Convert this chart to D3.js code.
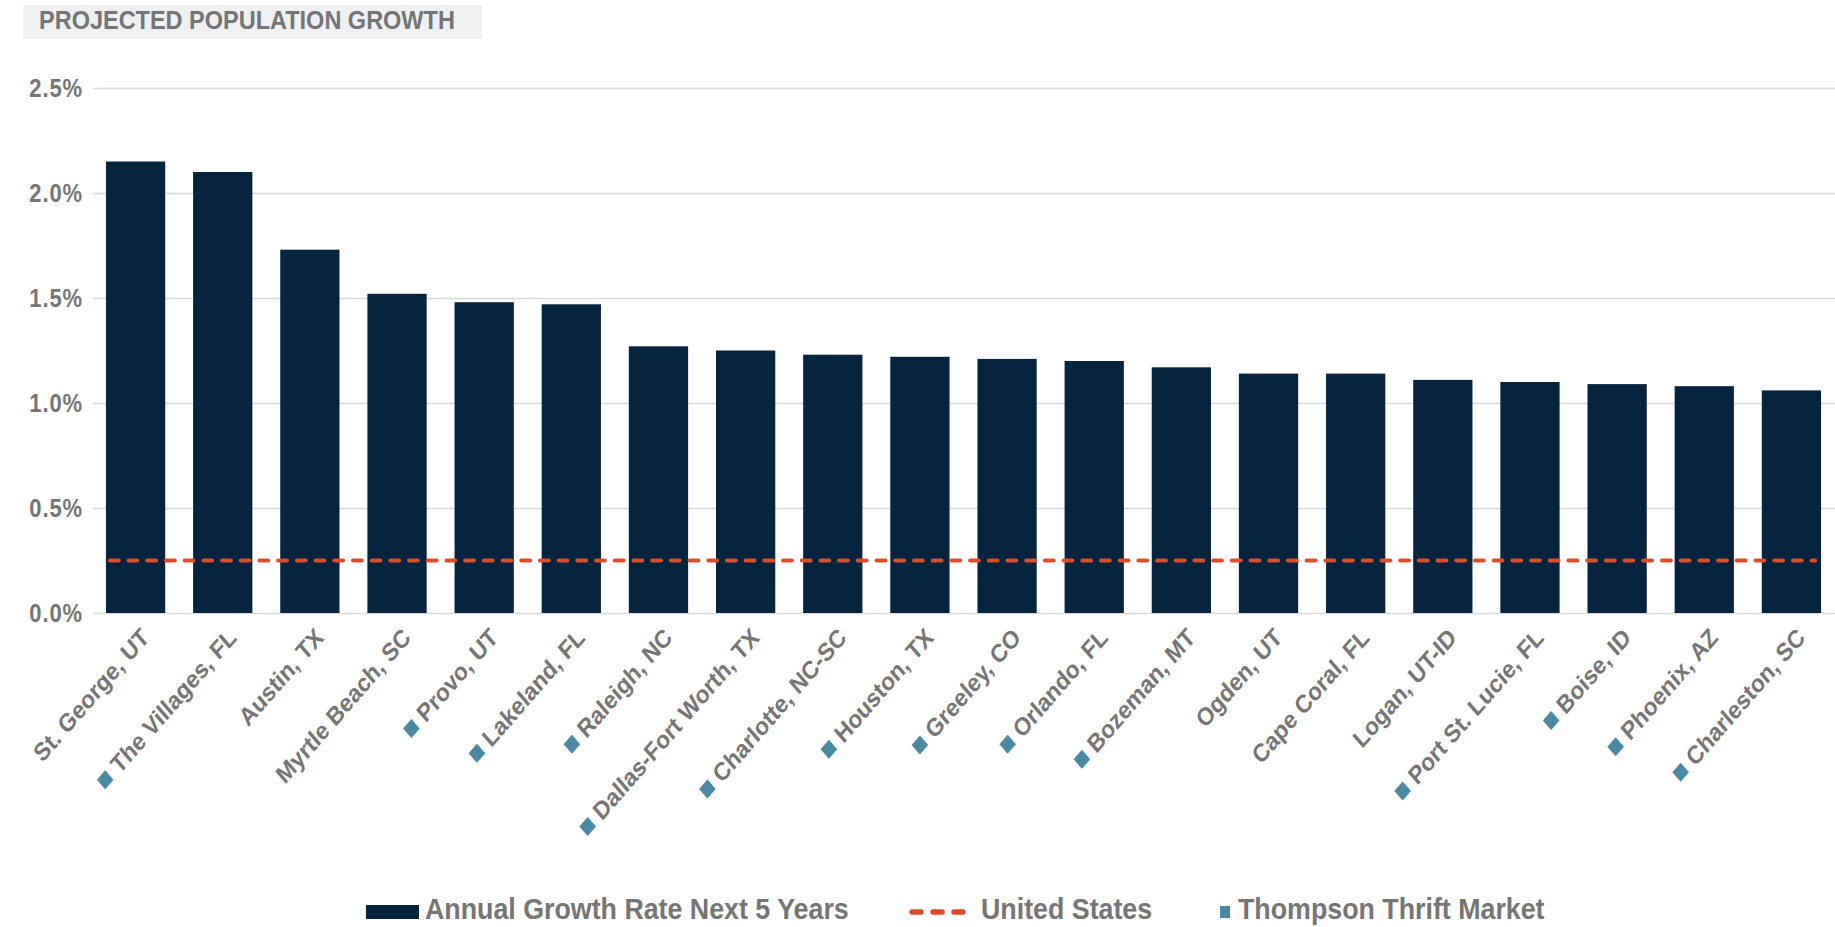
<!DOCTYPE html>
<html>
<head>
<meta charset="utf-8">
<script src="https://cdn.jsdelivr.net/npm/d3@7"></script>
<style>
  html, body { margin: 0; padding: 0; background: #ffffff; }
  svg { display: block; }
  text { font-family: "Liberation Sans", Arial, sans-serif; font-weight: 700; }
</style>
</head>
<body>
<svg id="chart" width="1835" height="927"></svg>
<script>
// ---- data ----
const title = "PROJECTED POPULATION GROWTH";
const categories = [
  "St. George, UT", "The Villages, FL", "Austin, TX", "Myrtle Beach, SC", "Provo, UT",
  "Lakeland, FL", "Raleigh, NC", "Dallas-Fort Worth, TX", "Charlotte, NC-SC", "Houston, TX",
  "Greeley, CO", "Orlando, FL", "Bozeman, MT", "Ogden, UT", "Cape Coral, FL",
  "Logan, UT-ID", "Port St. Lucie, FL", "Boise, ID", "Phoenix, AZ", "Charleston, SC"
];
const growthRate = [2.15, 2.10, 1.73, 1.52, 1.48, 1.47, 1.27, 1.25, 1.23, 1.22,
                    1.21, 1.20, 1.17, 1.14, 1.14, 1.11, 1.10, 1.09, 1.08, 1.06];
const thompsonThriftMarket = [false, true, false, false, true, true, true, true, true, true,
                              true, true, true, false, false, false, true, true, true, true];
const unitedStatesRate = 0.25;
const yTicks = [0, 0.5, 1.0, 1.5, 2.0, 2.5];
const legendLabels = ["Annual Growth Rate Next 5 Years", "United States", "Thompson Thrift Market"];

// ---- styles ----
const C = {
  bar: "#07243f",
  us: "#e04b2c",
  tt: "#4b88a2",
  text: "#757575",
  grid: "#dadada",
  titleBg: "#eff0f2"
};
const STRETCH = 1.13;

const svg = d3.select("#chart");

// title
svg.append("rect").attr("x", 23).attr("y", 5).attr("width", 459).attr("height", 34).attr("fill", C.titleBg);
svg.append("text").attr("transform", `translate(39,29) scale(1,${STRETCH})`)
  .attr("font-size", 23.5).attr("fill", C.text).text(title);

// scales
const x = d3.scaleBand().domain(categories).range([92, 1835]).paddingInner(0.32).paddingOuter(0.16);
const y = d3.scaleLinear().domain([0, 2.5]).range([613, 88]);

// grid + y axis
const yAxis = d3.axisLeft(y).tickValues(yTicks).tickFormat(d => d3.format(".1f")(d) + "%")
  .tickSize(-(1835 - 93)).tickPadding(10);
const gy = svg.append("g").attr("transform", "translate(93,0)").call(yAxis);
gy.select(".domain").remove();
gy.selectAll(".tick line").attr("stroke", C.grid).attr("stroke-width", 1.6);
gy.selectAll(".tick text").attr("fill", C.text).attr("font-size", 22).attr("letter-spacing", 0.9)
  .attr("font-family", "Liberation Sans, Arial, sans-serif").attr("font-weight", 700)
  .attr("dy", "0.36em").attr("transform", `scale(1,${STRETCH})`);

// bars
svg.append("g").selectAll("rect").data(categories).join("rect")
  .attr("x", d => x(d))
  .attr("y", (d, i) => y(growthRate[i]))
  .attr("width", x.bandwidth())
  .attr("height", (d, i) => y(0) - y(growthRate[i]))
  .attr("fill", C.bar);

// US line
svg.append("line")
  .attr("x1", x(categories[0]) + 4)
  .attr("x2", x(categories[categories.length - 1]) + x.bandwidth() - 6)
  .attr("y1", y(unitedStatesRate)).attr("y2", y(unitedStatesRate))
  .attr("stroke", C.us).attr("stroke-width", 4.2)
  .attr("stroke-dasharray", "8.7 10").attr("stroke-linecap", "round");

// x labels
const xl = svg.append("g").selectAll("text").data(categories).join("text")
  .attr("transform", d => `translate(${x(d) + x.bandwidth() / 2 + 15},639) scale(1,1.15) rotate(-45)`)
  .attr("text-anchor", "end")
  .attr("font-size", 22)
  .attr("fill", C.text);
xl.each(function(d, i) {
  const t = d3.select(this);
  if (thompsonThriftMarket[i]) {
    t.append("tspan").attr("fill", C.tt).attr("font-size", 24).text("\u25A0");
    t.append("tspan").text("\u00A0" + d);
  } else {
    t.append("tspan").text(d);
  }
});

// legend
const lg = svg.append("g");
const ly = 912;
const legendText = (xp, s) => lg.append("text")
  .attr("transform", `translate(${xp},${ly + 7}) scale(1,${STRETCH})`)
  .attr("font-size", 26.8).attr("fill", C.text).text(s);
lg.append("rect").attr("x", 366).attr("y", ly - 7).attr("width", 53).attr("height", 14).attr("fill", C.bar);
legendText(425, legendLabels[0]);
lg.append("line").attr("x1", 912).attr("x2", 967).attr("y1", ly).attr("y2", ly)
  .attr("stroke", C.us).attr("stroke-width", 5.5).attr("stroke-dasharray", "9 12").attr("stroke-linecap", "round");
legendText(981, legendLabels[1]);
lg.append("rect").attr("x", 1220).attr("y", ly - 6).attr("width", 10).attr("height", 12).attr("fill", C.tt);
legendText(1238, legendLabels[2]);
</script>
</body>
</html>
